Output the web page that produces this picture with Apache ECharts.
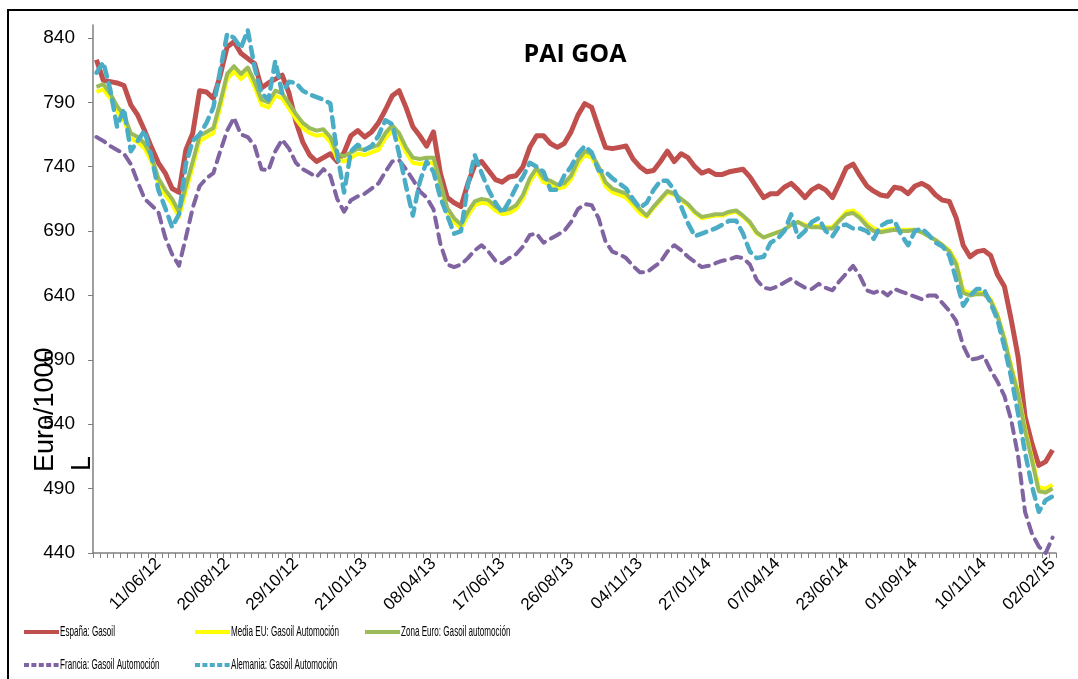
<!DOCTYPE html>
<html>
<head>
<meta charset="utf-8">
<script src="https://cdn.jsdelivr.net/npm/echarts@6/dist/echarts.min.js"></script>
<style>
html,body{margin:0;padding:0;background:#fff;}
#chart{width:1078px;height:679px;}
</style>
</head>
<body>
<div id="chart"></div>
<script>
const categories = [
"09/04/12","16/04/12","23/04/12","30/04/12","07/05/12","14/05/12","21/05/12","28/05/12","04/06/12","11/06/12",
"18/06/12","25/06/12","02/07/12","09/07/12","16/07/12","23/07/12","30/07/12","06/08/12","13/08/12","20/08/12",
"27/08/12","03/09/12","10/09/12","17/09/12","24/09/12","01/10/12","08/10/12","15/10/12","22/10/12","29/10/12",
"05/11/12","12/11/12","19/11/12","26/11/12","03/12/12","10/12/12","17/12/12","07/01/13","14/01/13","21/01/13",
"28/01/13","04/02/13","11/02/13","18/02/13","25/02/13","04/03/13","11/03/13","18/03/13","25/03/13","08/04/13",
"15/04/13","22/04/13","29/04/13","06/05/13","13/05/13","20/05/13","27/05/13","03/06/13","10/06/13","17/06/13",
"24/06/13","01/07/13","08/07/13","15/07/13","22/07/13","29/07/13","05/08/13","12/08/13","19/08/13","26/08/13",
"02/09/13","09/09/13","16/09/13","23/09/13","30/09/13","07/10/13","14/10/13","21/10/13","28/10/13","04/11/13",
"11/11/13","18/11/13","25/11/13","02/12/13","09/12/13","16/12/13","06/01/14","13/01/14","20/01/14","27/01/14",
"03/02/14","10/02/14","17/02/14","24/02/14","03/03/14","10/03/14","17/03/14","24/03/14","31/03/14","07/04/14",
"14/04/14","28/04/14","05/05/14","12/05/14","19/05/14","26/05/14","02/06/14","09/06/14","16/06/14","23/06/14",
"30/06/14","07/07/14","14/07/14","21/07/14","28/07/14","04/08/14","11/08/14","18/08/14","25/08/14","01/09/14",
"08/09/14","15/09/14","22/09/14","29/09/14","06/10/14","13/10/14","20/10/14","27/10/14","03/11/14","10/11/14",
"17/11/14","24/11/14","01/12/14","08/12/14","15/12/14","05/01/15","12/01/15","19/01/15","26/01/15","02/02/15"
];

const espana = [
823,807,806,805,803,788,780,768,755,743,
735,723,720,753,766,799,798,793,811,833,
837,828,824,820,801,805,808,811,797,775,
759,749,744,747,750,744,751,764,768,763,
767,774,784,795,799,786,771,764,756,767,
735,716,712,709,727,741,744,737,730,728,
732,733,740,755,764,764,758,755,758,767,
780,789,786,770,755,754,755,756,746,740,
736,737,744,752,744,750,747,740,735,737,
734,734,736,737,738,732,724,716,719,719,
724,727,722,716,722,725,722,716,727,739,
742,733,725,721,718,717,724,723,719,725,
727,724,718,714,713,700,679,670,674,675,
671,656,647,621,592,546,525,508,511,520
];

const mediaEU = [
798,800,793,783,776,762,759,754,744,727,
718,711,701,721,740,760,763,766,786,808,
814,808,813,802,788,786,795,793,785,777,
770,766,764,765,759,746,744,747,750,749,
751,753,762,768,762,751,743,742,743,743,
725,705,697,692,702,710,712,711,706,703,
704,707,715,728,736,728,726,723,724,730,
742,749,747,737,725,720,718,716,710,704,
701,708,714,720,718,714,710,704,700,701,
702,702,704,705,701,696,688,685,687,689,
691,695,697,695,694,694,693,693,699,705,
706,702,696,692,690,691,692,691,691,691,
689,686,683,679,675,666,644,642,642,642,
637,625,607,585,565,537,514,491,490,493
];

const zonaEuro = [
802,804,797,787,780,766,763,758,748,731,
722,715,705,725,744,764,767,770,790,812,
818,812,817,806,792,790,799,797,789,781,
774,770,768,769,763,750,748,751,754,753,
755,757,766,772,766,755,747,746,747,747,
728,708,700,695,705,713,715,714,709,706,
707,710,718,731,739,731,729,726,727,733,
745,752,750,740,728,723,721,719,713,707,
702,709,715,721,719,715,711,705,701,702,
703,703,705,706,702,697,689,685,687,689,
691,695,697,694,693,693,692,692,698,703,
704,700,694,690,689,690,691,690,690,691,
689,686,683,679,674,664,642,640,641,641,
636,624,606,583,563,535,512,488,487,490
];

const francia = [
763,760,756,753,750,742,728,715,710,705,
685,672,663,685,708,725,731,735,752,768,
778,765,763,756,738,737,752,761,754,743,
738,735,732,738,733,715,705,714,717,719,
723,727,736,744,745,738,730,721,716,707,
680,664,662,664,669,675,679,674,667,665,
669,672,678,687,688,681,684,687,690,697,
707,711,710,700,682,674,672,669,663,658,
658,662,666,674,679,675,670,666,662,663,
665,667,668,670,669,664,652,646,645,647,
650,653,649,646,645,649,646,644,651,657,
663,655,644,642,644,640,645,643,641,639,
637,640,640,634,628,620,601,590,591,593,
582,573,562,543,515,472,455,445,440,452
];

const alemania = [
813,821,800,771,785,752,760,768,748,722,
708,693,703,742,760,765,774,786,815,843,
840,832,846,817,797,792,822,797,806,805,
799,796,794,792,789,750,720,752,757,753,
756,764,776,773,750,725,702,728,744,736,
716,702,688,690,726,749,735,722,712,704,
713,724,732,743,740,736,722,722,733,740,
750,756,751,737,736,731,727,723,715,708,
712,722,729,729,722,709,696,686,688,690,
692,695,698,698,688,674,669,670,681,684,
690,703,685,690,697,700,690,686,694,695,
692,692,690,684,694,697,698,687,679,690,
692,687,681,678,671,652,632,640,645,645,
634,621,600,576,548,518,492,472,481,484
];

const yTickValues = [440,490,540,590,640,690,740,790,840];

const seriesNames = [
"España: Gasoil",
"Media EU: Gasoil Automoción",
"Zona Euro: Gasoil automoción",
"Francia: Gasoil Automoción",
"Alemania: Gasoil Automoción"
];
const seriesColors = ['#C0504D','#FFFF00','#9BBB59','#8064A2','#4BACC6'];

const chart = echarts.init(document.getElementById('chart'), null, {renderer:'canvas'});

const legendSlots = [[22,632],[193,632],[363,632],[22,665],[193,665]];
const dashedIdx = [3,4];

function legendAt(i){
  const dashed = dashedIdx.indexOf(i) >= 0;
  return {show:true, data:[seriesNames[i]], left:legendSlots[i][0], top:legendSlots[i][1]-6, padding:0,
          itemWidth:35, itemHeight:12, itemGap:0, selectedMode:false,
          formatter:function(){return '';},
          itemStyle:{opacity:0},
          lineStyle:{width:4, type: dashed ? [5,2.4] : 'solid', cap:'butt'}};
}

function legendText(i){
  return {type:'text', x:legendSlots[i][0]+38, y:legendSlots[i][1], scaleX:0.54, silent:true,
    style:{text:seriesNames[i], fontSize:15, fontFamily:'"Liberation Sans",Arial,sans-serif', fill:'#000',
           textAlign:'left', textVerticalAlign:'middle'}};
}

const option = {
  animation:false,
  backgroundColor:'#fff',
  title:{
    text:'PAI GOA', left:570, top:37, textAlign:'center',
    textStyle:{fontFamily:'"Open Sans","Liberation Sans",Arial,sans-serif', fontWeight:'bold', fontSize:25, color:'#000'}
  },
  legend:[legendAt(0),legendAt(1),legendAt(2),legendAt(3),legendAt(4)],
  grid:{left:93,right:22,top:25,bottom:126},
  xAxis:{
    type:'category',
    data:categories,
    boundaryGap:true,
    axisLine:{lineStyle:{color:'#7f7f7f',width:1.5}},
    axisTick:{show:true, interval:0, length:5, inside:false, lineStyle:{color:'#7f7f7f'}},
    axisLabel:{
      interval:function(idx){return idx % 10 === 9;},
      rotate:45, margin:8,
      fontFamily:'"Liberation Sans",Arial,sans-serif', fontSize:17, color:'#000'
    },
    splitLine:{show:false}
  },
  yAxis:{
    type:'value',
    min:440, max:850, interval:50,
    axisLine:{show:true, lineStyle:{color:'#7f7f7f',width:1.5}},
    axisTick:{show:true, length:5, inside:false, lineStyle:{color:'#7f7f7f'}, customValues:yTickValues},
    axisLabel:{margin:18, fontFamily:'"Liberation Sans",Arial,sans-serif', fontSize:19, color:'#000', customValues:yTickValues},
    splitLine:{show:false}
  },
  graphic:[
    {type:'rect', shape:{x:8, y:10, width:1200, height:800}, style:{fill:'none', stroke:'#000', lineWidth:2}, silent:true},
    {type:'text', x:32, y:472, rotation:Math.PI/2,
      style:{text:'Euro/1000', fontSize:27, fontFamily:'"Liberation Sans",Arial,sans-serif', fill:'#000', textAlign:'left', textVerticalAlign:'top'}},
    {type:'text', x:69, y:471, rotation:Math.PI/2,
      style:{text:'L', fontSize:27, fontFamily:'"Liberation Sans",Arial,sans-serif', fill:'#000', textAlign:'left', textVerticalAlign:'top'}},
    legendText(0),legendText(1),legendText(2),legendText(3),legendText(4)
  ],
  series:[
    {name:seriesNames[0], type:'line', data:espana, symbol:'none', z:2,
      lineStyle:{color:seriesColors[0], width:5, join:'round'}, itemStyle:{color:seriesColors[0]}},
    {name:seriesNames[1], type:'line', data:mediaEU, symbol:'none', z:3,
      lineStyle:{color:seriesColors[1], width:4, join:'round'}, itemStyle:{color:seriesColors[1]}},
    {name:seriesNames[2], type:'line', data:zonaEuro, symbol:'none', z:4,
      lineStyle:{color:seriesColors[2], width:4, join:'round'}, itemStyle:{color:seriesColors[2]}},
    {name:seriesNames[3], type:'line', data:francia, symbol:'none', z:5,
      lineStyle:{color:seriesColors[3], width:4, type:[10,7], cap:'round', join:'round'}, itemStyle:{color:seriesColors[3]}},
    {name:seriesNames[4], type:'line', data:alemania, symbol:'none', z:6,
      lineStyle:{color:seriesColors[4], width:4.5, type:[10,7], cap:'round', join:'round'}, itemStyle:{color:seriesColors[4]}}
  ]
};
chart.setOption(option);
</script>
</body>
</html>
